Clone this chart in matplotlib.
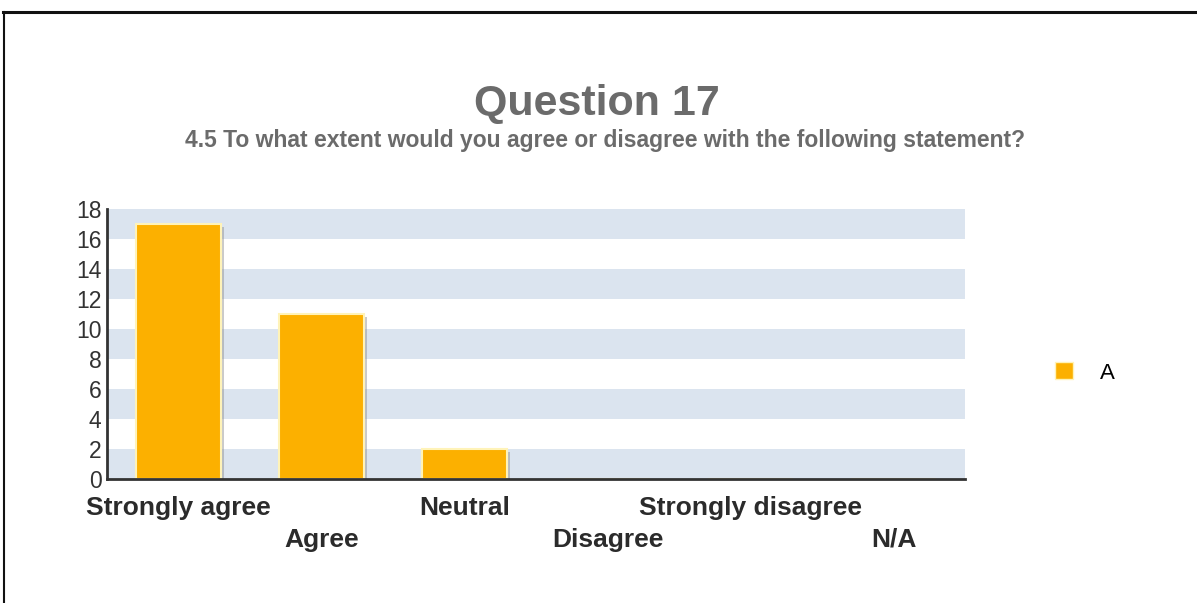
import matplotlib.pyplot as plt
import matplotlib.patheffects as pe
from matplotlib.patches import Patch
from matplotlib.lines import Line2D

plt.rcParams['font.family'] = ['Liberation Sans', 'DejaVu Sans']

categories = ["Strongly agree", "Agree", "Neutral", "Disagree", "Strongly disagree", "N/A"]
values = [17, 11, 2, 0, 0, 0]
yticks = list(range(0, 19, 2))
series_name = "A"
title = "Question 17"
subtitle = "4.5 To what extent would you agree or disagree with the following statement?"

W, H = 1197, 603
fig = plt.figure(figsize=(W / 100, H / 100), dpi=100)
fig.patch.set_facecolor("white")

# outer frame (top and left edge)
fig.add_artist(Line2D([3 / W, 1], [1 - 12 / H, 1 - 12 / H], color="#111111", lw=2.2, transform=fig.transFigure))
fig.add_artist(Line2D([4 / W, 4 / W], [0, 1 - 12 / H], color="#111111", lw=1.5, transform=fig.transFigure))

ax = fig.add_axes([107 / W, (H - 479) / H, 858 / W, 270 / H])

for lo in range(0, 18, 4):
    ax.axhspan(lo, lo + 2, color="#dbe4ef", lw=0, zorder=0)

x = list(range(len(categories)))
bars = ax.bar(x, values, width=0.59, color="#fcb000", edgecolor="#fff3b8", linewidth=1.5, zorder=3)
for b in bars:
    b.set_path_effects([pe.SimplePatchShadow(offset=(2.5, -2), shadow_rgbFace="#8a8a8a", alpha=0.45), pe.Normal()])

ax.set_xlim(-0.5, len(categories) - 0.5)
ax.set_ylim(0, 18)
ax.set_yticks(yticks)
ax.set_yticklabels([str(t) for t in yticks], fontsize=16.5, color="#333333")
ax.set_xticks(x)
ax.set_xticklabels(categories, fontsize=19, fontweight="bold", color="#2b2b2b")
ax.tick_params(axis="both", length=0)
ax.tick_params(axis="y", pad=4)
for i, t in enumerate(ax.xaxis.get_major_ticks()):
    t.set_pad(12 if i % 2 == 0 else 35)

for s in ["top", "right"]:
    ax.spines[s].set_visible(False)
ax.spines["left"].set_color("#333333")
ax.spines["left"].set_linewidth(2)
ax.spines["bottom"].set_color("#333333")
ax.spines["bottom"].set_linewidth(2)
ax.spines["left"].set_zorder(5)
ax.spines["bottom"].set_zorder(5)

fig.text(597 / W, 1 - 104 / H, title, ha="center", va="center", fontsize=31, fontweight="bold", color="#6b6b6b")
fig.text(605 / W, 1 - 141 / H, subtitle, ha="center", va="center", fontsize=16.5, fontweight="bold", color="#6b6b6b")

fig.legend(handles=[Patch(facecolor="#fcb000", edgecolor="#fff3b8", label=series_name)],
           loc="center", bbox_to_anchor=(1085 / W, 1 - 373 / H), frameon=False,
           handlelength=0.8, handleheight=0.8, handletextpad=1.2, fontsize=16)

fig.savefig("out.png", dpi=100)
